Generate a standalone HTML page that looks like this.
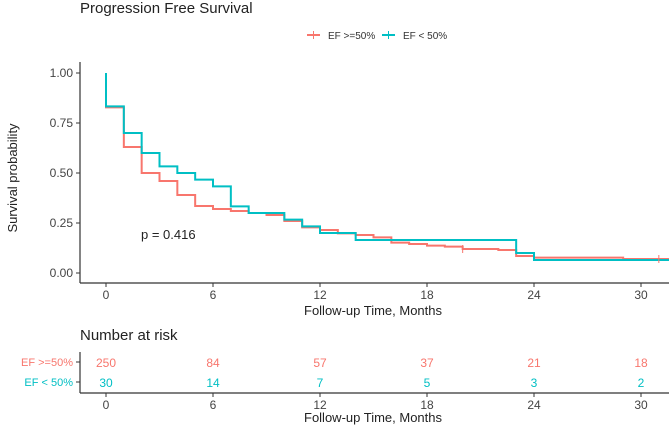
<!DOCTYPE html>
<html><head><meta charset="utf-8"><style>
body{margin:0;background:#fff;}
svg{display:block;font-family:"Liberation Sans",sans-serif;}
</style></head><body>
<svg id="c" width="669" height="427" viewBox="0 0 669 427">
<text x="80" y="13" font-size="15" fill="#222">Progression Free Survival</text>
<g>
<g><line x1="307" y1="35" x2="320" y2="35" stroke="#F8766D" stroke-width="2"/><line x1="313.5" y1="31" x2="313.5" y2="39" stroke="#F8766D" stroke-width="1"/><text x="328" y="39" font-size="10" fill="#333">EF &gt;=50%</text></g>
<g><line x1="382" y1="35" x2="395" y2="35" stroke="#00BFC4" stroke-width="2"/><line x1="388.5" y1="31" x2="388.5" y2="39" stroke="#00BFC4" stroke-width="1"/><text x="403" y="39" font-size="10" fill="#333">EF &lt; 50%</text></g>
</g>
<g id="plot"></g>
<text transform="translate(17,178) rotate(-90)" text-anchor="middle" font-size="13" fill="#222">Survival probability</text>
<text x="373" y="315" text-anchor="middle" font-size="13" fill="#222">Follow-up Time, Months</text>
<text x="141" y="239" font-size="13" fill="#222">p = 0.416</text>
<text x="80" y="340" font-size="15" fill="#222">Number at risk</text>
<g id="risk"></g>
<text x="373" y="422" text-anchor="middle" font-size="13" fill="#222">Follow-up Time, Months</text>
</svg>
<script>
const times = [0,1,2,3,4,5,6,7,8,9,10,11,12,13,14,15,16,17,18,19,20,22,23,24,29];
const survRed = [0.828,0.63,0.50,0.46,0.39,0.335,0.32,0.31,0.30,0.29,0.26,0.228,0.215,0.198,0.19,0.178,0.152,0.145,0.137,0.132,0.12,0.115,0.085,0.077,0.07];
const timesTeal = [0,1,2,3,4,5,6,7,8,10,11,12,14,23,24];
const survTeal = [0.833,0.70,0.60,0.533,0.50,0.467,0.433,0.333,0.30,0.267,0.233,0.20,0.165,0.10,0.065];
const censorRed = [20,31];
const xTicks = [0,6,12,18,24,30];
const yTicks = [0,0.25,0.5,0.75,1];
const riskRed = [250,84,57,37,21,18];
const riskTeal = [30,14,7,5,3,2];
const groups = ["EF >=50%","EF < 50%"];
const NS="http://www.w3.org/2000/svg";
const xs = t => 106 + t*(641-106)/30;
const ys = v => 273 - v*200;
function mk(tag,attrs,parent){const e=document.createElementNS(NS,tag);for(const k in attrs)e.setAttribute(k,attrs[k]);parent.appendChild(e);return e;}
const plot=document.getElementById('plot');
const ya=mk('line',{x1:80,y1:62,x2:80,y2:283,stroke:'#333','stroke-width':1.2},plot);


const xa=mk('line',{x1:80,y1:283,x2:669,y2:283,stroke:'#333','stroke-width':1.2},plot);


yTicks.forEach(v=>{
  mk('line',{x1:76,y1:ys(v),x2:80,y2:ys(v),stroke:'#333'},plot);
  const t=mk('text',{x:73,y:ys(v)+4,'text-anchor':'end','font-size':12,fill:'#444'},plot);
  t.textContent=v.toFixed(2);
  
  
});
xTicks.forEach(v=>{
  mk('line',{x1:xs(v),y1:283,x2:xs(v),y2:287,stroke:'#333'},plot);
  const t=mk('text',{x:xs(v),y:299,'text-anchor':'middle','font-size':12,fill:'#444'},plot);
  t.textContent=v;
  
  
});
function stepPath(ts,ss){
  let d='M'+xs(0)+','+ys(1);
  ts.forEach((t,i)=>{d+=' H'+xs(t)+' V'+ys(ss[i]);});
  d+=' H669';
  return d;
}
const pr=mk('path',{d:stepPath(times,survRed),fill:'none',stroke:'#F8766D','stroke-width':2},plot);


const pt=mk('path',{d:stepPath(timesTeal,survTeal),fill:'none',stroke:'#00BFC4','stroke-width':2},plot);


censorRed.forEach(c=>{
  let i=times.filter(t=>t<=c).length-1;
  const m=mk('line',{x1:xs(c),y1:ys(survRed[i])-4,x2:xs(c),y2:ys(survRed[i])+4,stroke:'#F8766D'},plot);
  
  
});
const risk=document.getElementById('risk');
mk('line',{x1:80,y1:352,x2:80,y2:393,stroke:'#333','stroke-width':1.2},risk);
mk('line',{x1:80,y1:393,x2:669,y2:393,stroke:'#333','stroke-width':1.2},risk);
const rowY=[362,382], cols=['#F8766D','#00BFC4'];
[riskRed,riskTeal].forEach((arr,r)=>{
  mk('line',{x1:76,y1:rowY[r],x2:80,y2:rowY[r],stroke:'#333'},risk);
  const l=mk('text',{x:73,y:rowY[r]+4,'text-anchor':'end','font-size':11,fill:cols[r]},risk);
  l.textContent=groups[r];
  
  
  arr.forEach((n,i)=>{
    const t=mk('text',{x:xs(xTicks[i]),y:rowY[r]+5,'text-anchor':'middle','font-size':12,fill:cols[r]},risk);
    t.textContent=n;
    
    
  });
});
xTicks.forEach(v=>{
  mk('line',{x1:xs(v),y1:393,x2:xs(v),y2:397,stroke:'#333'},risk);
  const t=mk('text',{x:xs(v),y:409,'text-anchor':'middle','font-size':12,fill:'#444'},risk);
  t.textContent=v;
  
  
});
</script>
</body></html>
